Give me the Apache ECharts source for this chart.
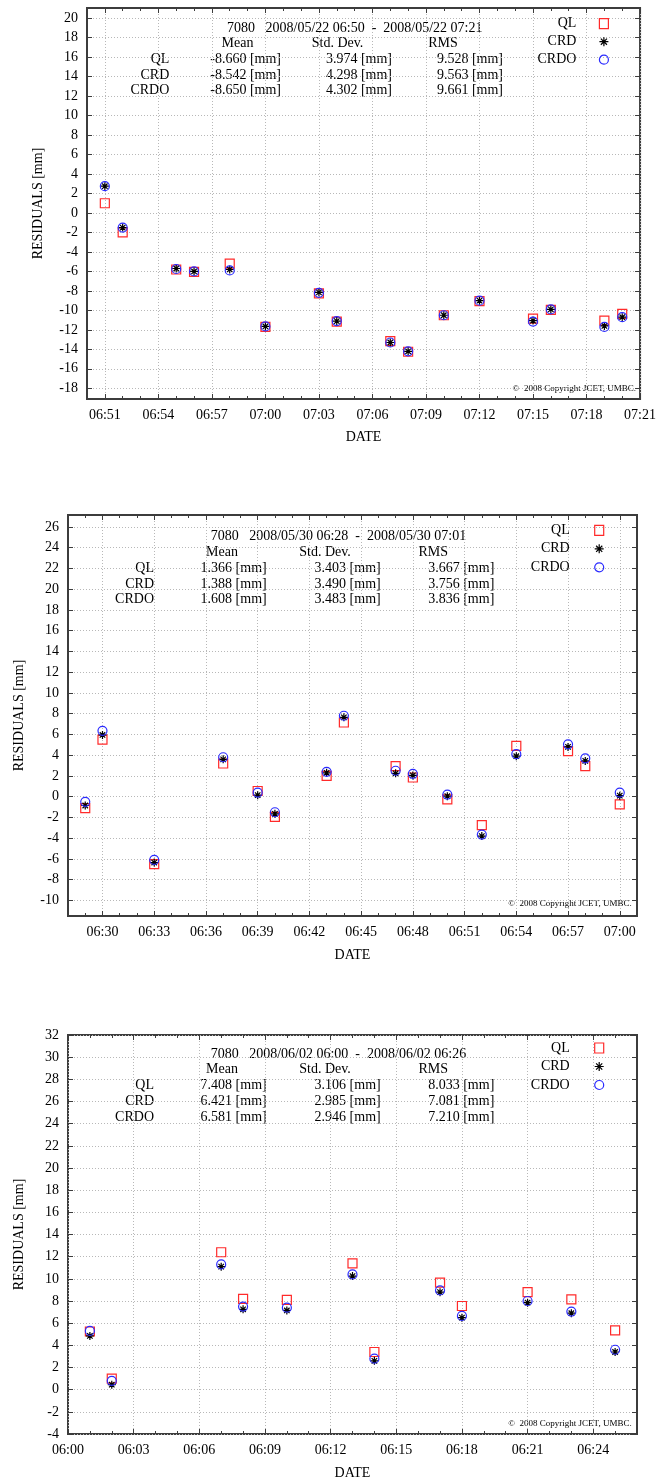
<!DOCTYPE html>
<html><head><meta charset="utf-8">
<script src="https://cdn.jsdelivr.net/npm/echarts@6/dist/echarts.min.js"></script>
<style>html,body{margin:0;padding:0;background:#fff}#c{width:659px;height:1483px}</style>
</head><body><div id="c"></div>
<script>
// ---------- DATA ----------
const seriesNames = ['QL', 'CRD', 'CRDO'];

// Panel 1: 2008/05/22
const p1Times = ['06:51','06:52','06:55','06:56','06:58','07:00','07:03','07:04','07:07','07:08','07:10','07:12','07:15','07:16','07:19','07:20'];
const p1QL   = [1.0, -2.0, -5.8, -6.05, -5.2, -11.7, -8.25, -11.15, -13.15, -14.25, -10.5, -9.05, -10.85, -9.95, -11.05, -10.35];
const p1CRD  = [2.75, -1.5, -5.7, -6.0, -5.8, -11.65, -8.15, -11.1, -13.3, -14.2, -10.5, -9.0, -11.05, -9.9, -11.6, -10.7];
const p1CRDO = [2.75, -1.5, -5.75, -6.0, -5.9, -11.65, -8.2, -11.1, -13.3, -14.2, -10.5, -9.0, -11.15, -9.9, -11.7, -10.7];
const p1XRange = ['06:50', '07:21'];
const p1XTicks = ['06:51','06:54','06:57','07:00','07:03','07:06','07:09','07:12','07:15','07:18','07:21'];
const p1YTicks = [-18,-16,-14,-12,-10,-8,-6,-4,-2,0,2,4,6,8,10,12,14,16,18,20];
const p1YRange = [-19.1, 21.05];
const p1Title = '7080   2008/05/22 06:50  -  2008/05/22 07:21';
const p1Mean = ['-8.660 [mm]', '-8.542 [mm]', '-8.650 [mm]'];
const p1Std  = ['3.974 [mm]', '4.298 [mm]', '4.302 [mm]'];
const p1Rms  = ['9.528 [mm]', '9.563 [mm]', '9.661 [mm]'];

// Panel 2: 2008/05/30
const p2Times = ['06:29','06:30','06:33','06:37','06:39','06:40','06:43','06:44','06:47','06:48','06:50','06:52','06:54','06:57','06:58','07:00'];
const p2QL   = [-1.1, 5.5, -6.5, 3.2, 0.55, -1.95, 2.0, 7.15, 2.95, 1.85, -0.25, -2.75, 4.9, 4.4, 2.95, -0.75];
const p2CRD  = [-0.85, 5.95, -6.35, 3.6, 0.15, -1.65, 2.3, 7.65, 2.25, 2.05, 0.05, -3.8, 3.9, 4.8, 3.45, 0.1];
const p2CRDO = [-0.5, 6.35, -6.1, 3.8, 0.4, -1.5, 2.4, 7.8, 2.5, 2.2, 0.2, -3.65, 4.1, 5.05, 3.7, 0.4];
const p2XRange = ['06:28', '07:01'];
const p2XTicks = ['06:30','06:33','06:36','06:39','06:42','06:45','06:48','06:51','06:54','06:57','07:00'];
const p2YTicks = [-10,-8,-6,-4,-2,0,2,4,6,8,10,12,14,16,18,20,22,24,26];
const p2YRange = [-11.5, 27.15];
const p2Title = '7080   2008/05/30 06:28  -  2008/05/30 07:01';
const p2Mean = ['1.366 [mm]', '1.388 [mm]', '1.608 [mm]'];
const p2Std  = ['3.403 [mm]', '3.490 [mm]', '3.483 [mm]'];
const p2Rms  = ['3.667 [mm]', '3.756 [mm]', '3.836 [mm]'];

// Panel 3: 2008/06/02
const p3Times = ['06:01','06:02','06:07','06:08','06:10','06:13','06:14','06:17','06:18','06:21','06:23','06:25'];
const p3QL   = [5.25, 1.0, 12.4, 8.2, 8.1, 11.4, 3.4, 9.65, 7.55, 8.8, 8.15, 5.35];
const p3CRD  = [4.85, 0.45, 11.1, 7.25, 7.15, 10.25, 2.6, 8.8, 6.5, 7.85, 6.9, 3.4];
const p3CRDO = [5.3, 0.8, 11.3, 7.5, 7.4, 10.4, 2.8, 8.95, 6.65, 8.0, 7.05, 3.6];
const p3XRange = ['06:00', '06:26'];
const p3XTicks = ['06:00','06:03','06:06','06:09','06:12','06:15','06:18','06:21','06:24'];
const p3YTicks = [-4,-2,0,2,4,6,8,10,12,14,16,18,20,22,24,26,28,30,32];
const p3YRange = [-4, 32];
const p3Title = '7080   2008/06/02 06:00  -  2008/06/02 06:26';
const p3Mean = ['7.408 [mm]', '6.421 [mm]', '6.581 [mm]'];
const p3Std  = ['3.106 [mm]', '2.985 [mm]', '2.946 [mm]'];
const p3Rms  = ['8.033 [mm]', '7.081 [mm]', '7.210 [mm]'];

const copyrightText = '\u00a9  2008 Copyright JCET, UMBC.';

// ---------- LAYOUT ----------
const FONT = '"Liberation Serif", "DejaVu Serif", "Times New Roman", serif';
const toMin = s => { const p = s.split(':').map(Number); return p[0] * 60 + p[1] + (p[2] || 0) / 60; };
const fmtMin = v => { const t = Math.round(v); const h = Math.floor(t / 60), m = t % 60; return String(h).padStart(2, '0') + ':' + String(m).padStart(2, '0'); };

const panels = [
  { times: p1Times, vals: [p1QL, p1CRD, p1CRDO], xr: p1XRange, xt: p1XTicks, yt: p1YTicks, yr: p1YRange,
    title: p1Title, mean: p1Mean, std: p1Std, rms: p1Rms,
    grid: { left: 87, top: 8, width: 554, height: 391 }, nameGapY: 42, nameGapX: 31,
    cols: { labelR: 169.3, titleL: 227, meanC: 237.5, meanR: 281, stdC: 337.5, stdR: 392, rmsC: 443, rmsR: 503 },
    rows: [28.3, 43.8, 59.8, 75.3, 90.8],
    legend: { right: 50, top: 16.7, gap: 4, pad: 18 }, copy: [636, 389] },
  { times: p2Times, vals: [p2QL, p2CRD, p2CRDO], xr: p2XRange, xt: p2XTicks, yt: p2YTicks, yr: p2YRange,
    title: p2Title, mean: p2Mean, std: p2Std, rms: p2Rms,
    grid: { left: 68, top: 515, width: 569, height: 401 }, nameGapY: 42, nameGapX: 32,
    cols: { labelR: 154, titleL: 210.7, meanC: 222, meanR: 266.7, stdC: 325, stdR: 380.7, rmsC: 433.3, rmsR: 494.3 },
    rows: [536.5, 552.3, 568.1, 583.9, 599.7],
    legend: { right: 54.7, top: 523.3, gap: 4.5, pad: 20 }, copy: [631.7, 904] },
  { times: p3Times, vals: [p3QL, p3CRD, p3CRDO], xr: p3XRange, xt: p3XTicks, yt: p3YTicks, yr: p3YRange,
    title: p3Title, mean: p3Mean, std: p3Std, rms: p3Rms,
    grid: { left: 68, top: 1035, width: 569, height: 399 }, nameGapY: 42, nameGapX: 32,
    cols: { labelR: 154, titleL: 210.7, meanC: 222, meanR: 266.7, stdC: 325, stdR: 380.7, rmsC: 433.3, rmsR: 494.3 },
    rows: [1054, 1069.8, 1085.6, 1101.4, 1117.2],
    legend: { right: 54.7, top: 1041, gap: 4.5, pad: 20 }, copy: [631.7, 1423.3] }
];

const symbolDefs = [
  { symbol: 'rect', size: 9, color: '#ff2a2a' },
  { symbol: 'path://M0,5L10,5M5,0L5,10M1.6,1.6L8.4,8.4M8.4,1.6L1.6,8.4', size: 8, color: '#000000' },
  { symbol: 'circle', size: 9, color: '#2a2aff' }
];

const grids = [], xAxes = [], yAxes = [], series = [], legends = [], graphics = [];
const gridLine = { show: true, lineStyle: { color: '#b8b8b8', type: [1, 2], width: 1 } };
const noLine = { show: false, onZero: false };

function txt(x, y, text, align, size) {
  graphics.push({ type: 'text', x: x, y: y, silent: true,
    style: { text: text, fill: '#000', font: (size || 14) + 'px ' + FONT, align: align, verticalAlign: 'middle',
             textAlign: align, textVerticalAlign: 'middle' } });
}

panels.forEach((p, gi) => {
  grids.push(Object.assign({ show: true, borderColor: '#3c3c3c', borderWidth: 2, backgroundColor: 'transparent', containLabel: false }, p.grid));
  const xmin = toMin(p.xr[0]), xmax = toMin(p.xr[1]);
  const major = p.xt.map(toMin);
  const minor = [];
  for (let v = xmin; v <= xmax; v++) minor.push(v);
  const xBase = { type: 'value', gridIndex: gi, min: xmin, max: xmax, axisLine: noLine, splitLine: { show: false }, axisLabel: { show: false } };
  const xi = xAxes.length;
  xAxes.push(Object.assign({}, xBase, {
    position: 'bottom', name: 'DATE', nameLocation: 'middle', nameGap: p.nameGapX,
    nameTextStyle: { fontFamily: FONT, fontSize: 14, color: '#000' },
    axisTick: { show: true, inside: true, length: 5, customValues: major, lineStyle: { color: '#3c3c3c', width: 1 } },
    axisLabel: { show: true, customValues: major, formatter: fmtMin, margin: 9, fontFamily: FONT, fontSize: 14, color: '#000' },
    splitLine: gridLine
  }));
  xAxes.push(Object.assign({}, xBase, { position: 'bottom',
    axisTick: { show: true, inside: true, length: 3, customValues: minor, lineStyle: { color: '#3c3c3c', width: 1 } } }));
  xAxes.push(Object.assign({}, xBase, { position: 'top',
    axisTick: { show: true, inside: true, length: 5, customValues: major, lineStyle: { color: '#3c3c3c', width: 1 } } }));
  xAxes.push(Object.assign({}, xBase, { position: 'top',
    axisTick: { show: true, inside: true, length: 3, customValues: minor, lineStyle: { color: '#3c3c3c', width: 1 } } }));

  const yi = yAxes.length;
  yAxes.push({ type: 'value', gridIndex: gi, position: 'left', min: p.yr[0], max: p.yr[1],
    name: 'RESIDUALS [mm]', nameLocation: 'middle', nameGap: p.nameGapY,
    nameTextStyle: { fontFamily: FONT, fontSize: 14, color: '#000' },
    axisLine: noLine,
    axisTick: { show: true, inside: true, length: 5, customValues: p.yt, lineStyle: { color: '#3c3c3c', width: 1 } },
    axisLabel: { show: true, customValues: p.yt, margin: 9, fontFamily: FONT, fontSize: 14, color: '#000' },
    splitLine: gridLine });
  yAxes.push({ type: 'value', gridIndex: gi, position: 'right', min: p.yr[0], max: p.yr[1],
    axisLine: noLine, splitLine: { show: false }, axisLabel: { show: false },
    axisTick: { show: true, inside: true, length: 5, customValues: p.yt, lineStyle: { color: '#3c3c3c', width: 1 } } });

  seriesNames.forEach((nm, si) => {
    const d = symbolDefs[si];
    series.push({ type: 'scatter', name: nm, xAxisIndex: xi, yAxisIndex: yi,
      symbol: d.symbol, symbolSize: d.size, silent: true, animation: false,
      itemStyle: { color: 'transparent', borderColor: d.color, borderWidth: 1.2, opacity: 1 },
      data: p.times.map((t, i) => [toMin(t), p.vals[si][i]]) });
  });

  legends.push({ orient: 'vertical', align: 'right', right: p.legend.right, top: p.legend.top,
    padding: 0, itemGap: p.legend.gap, itemWidth: 9, itemHeight: 10, selectedMode: false,
    data: seriesNames,
    itemStyle: { borderWidth: 1.2 },
    textStyle: { fontFamily: FONT, fontSize: 14, color: '#000', padding: [0, p.legend.pad, 0, 0] } });

  const c = p.cols, r = p.rows;
  txt(c.titleL, r[0], p.title, 'left');
  txt(c.meanC, r[1], 'Mean', 'center');
  txt(c.stdC, r[1], 'Std. Dev.', 'center');
  txt(c.rmsC, r[1], 'RMS', 'center');
  seriesNames.forEach((nm, i) => {
    txt(c.labelR, r[2 + i], nm, 'right');
    txt(c.meanR, r[2 + i], p.mean[i], 'right');
    txt(c.stdR, r[2 + i], p.std[i], 'right');
    txt(c.rmsR, r[2 + i], p.rms[i], 'right');
  });
  txt(p.copy[0], p.copy[1], copyrightText, 'right', 9);
});

const chart = echarts.init(document.getElementById('c'), null, { renderer: 'canvas' });
chart.setOption({
  animation: false,
  backgroundColor: '#ffffff',
  grid: grids, xAxis: xAxes, yAxis: yAxes, series: series, legend: legends,
  graphic: { elements: graphics }
});
</script></body></html>
